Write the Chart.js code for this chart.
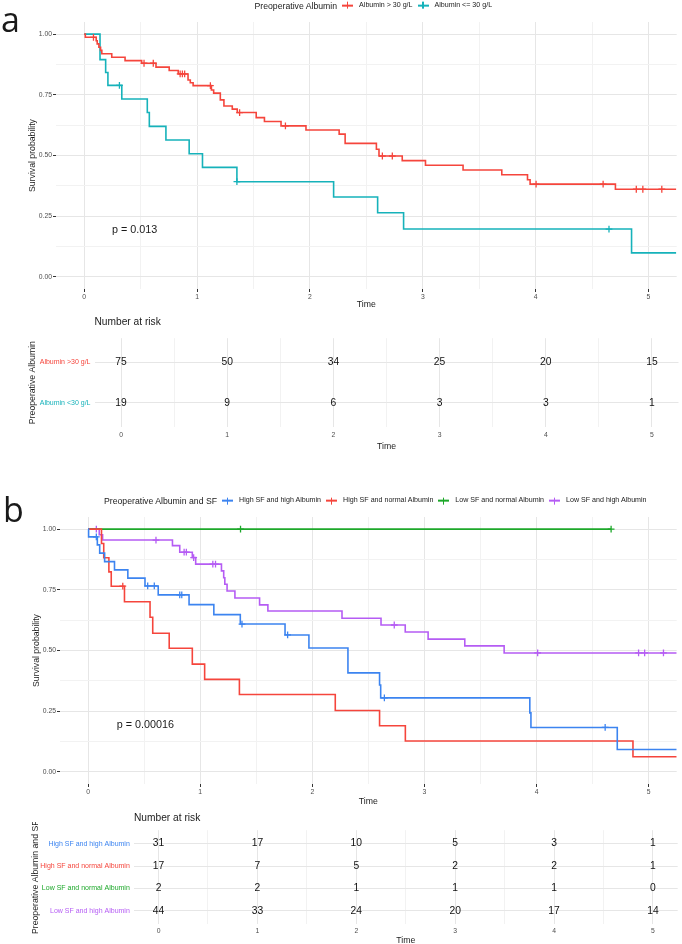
<!DOCTYPE html>
<html lang="en">
<head>
<meta charset="UTF-8" />
<meta name="viewport" content="width=device-width, initial-scale=1.0" />
<title>Survival by preoperative albumin and SF</title>
<script src="https://cdn.jsdelivr.net/npm/chart.js"></script>
<style>
  body { margin: 0; background: #fff; }
  #page {
    position: relative; width: 682px; height: 944px; overflow: hidden;
    font-family: 'Liberation Sans', Arial, Helvetica, sans-serif; color: #1a1a1a;
  }
  #page canvas { position: absolute; left: 0; }
  .lbl { position: absolute; white-space: nowrap; line-height: 1; transform: translateY(-50%); }
  .letter { position: absolute; font-family: 'Open Sans', sans-serif; font-size: 34px; line-height: 1; }
  .legend {
    position: absolute; display: flex; align-items: center; white-space: nowrap;
    line-height: 1; transform: translateY(-50%);
  }
  .legend .ttl { font-size: 8.7px; }
  .legend .item { font-size: 7.1px; }
  .legend .key { position: relative; width: 11px; height: 7px; margin: 0 6px 0 5px; }
  .legend .key::before {
    content: ''; position: absolute; left: 0; right: 0; top: 2.8px; height: 1.4px; background: currentColor;
  }
  .legend .key::after {
    content: ''; position: absolute; left: 4.9px; width: 1.2px; top: 0; bottom: 0; background: currentColor;
  }
</style>
</head>
<body>
<div id="page">
  <canvas id="kmA" width="682" height="310" style="top:0px"></canvas>
  <canvas id="riskA" width="682" height="122" style="top:330px"></canvas>
  <canvas id="kmB" width="682" height="317" style="top:490px"></canvas>
  <canvas id="riskB" width="682" height="124" style="top:822px"></canvas>

  <div class="letter" style="left:1px; top:2px">a</div>
  <div class="legend" style="left:254.5px; top:5.5px">
    <span class="ttl">Preoperative Albumin</span>
    <span class="key" style="color:#F5453C"></span><span class="item">Albumin &gt; 30 g/L</span>
    <span class="key" style="color:#16B2BA"></span><span class="item">Albumin &lt;= 30 g/L</span>
  </div>
  <div class="lbl" style="left:112px; top:229px; font-size:10.8px">p = 0.013</div>
  <div class="lbl" style="left:94.5px; top:322px; font-size:10.2px">Number at risk</div>

  <div class="letter" style="left:3px; top:492px">b</div>
  <div class="legend" style="left:104px; top:500.7px">
    <span class="ttl">Preoperative Albumin and SF</span>
    <span class="key" style="color:#3C84F0"></span><span class="item">High SF and high Albumin</span>
    <span class="key" style="color:#F5453C"></span><span class="item">High SF and normal Albumin</span>
    <span class="key" style="color:#1DA82A"></span><span class="item">Low SF and normal Albumin</span>
    <span class="key" style="color:#B55CF4"></span><span class="item">Low SF and high Albumin</span>
  </div>
  <div class="lbl" style="left:116.7px; top:724px; font-size:10.8px">p = 0.00016</div>
  <div class="lbl" style="left:134px; top:818px; font-size:10.2px">Number at risk</div>
</div>

<script>
// ---------- axes ----------
const timeLabels = [0, 1, 2, 3, 4, 5];
const timeGrid = [0, 0.5, 1, 1.5, 2, 2.5, 3, 3.5, 4, 4.5, 5];
const probLabels = [0, 0.25, 0.5, 0.75, 1];
const probGrid = [0, 0.125, 0.25, 0.375, 0.5, 0.625, 0.75, 0.875, 1];

// ---------- panel a: Albumin > 30 g/L ----------
const albHighTime = [0, 0.01, 0.106, 0.115, 0.13, 0.145, 0.156, 0.244, 0.362, 0.509, 0.636, 0.753, 0.833,
  0.92, 0.94, 0.965, 1.127, 1.147, 1.206, 1.238, 1.312, 1.356, 1.524, 1.597, 1.744, 1.965, 2.259, 2.312,
  2.589, 2.612, 2.818, 3.024, 3.357, 3.70, 3.928, 3.951, 4.707, 5.245];
const albHighSurv = [1, 0.987, 0.973, 0.96, 0.946, 0.933, 0.919, 0.905, 0.891, 0.88, 0.864, 0.85, 0.836,
  0.811, 0.80, 0.788, 0.77, 0.757, 0.729, 0.704, 0.691, 0.677, 0.656, 0.64, 0.622, 0.605, 0.588, 0.55,
  0.526, 0.498, 0.479, 0.46, 0.44, 0.421, 0.40, 0.382, 0.361, 0.361];
const albHighCensorTime = [0.082, 0.53, 0.612, 0.85, 0.87, 0.89, 1.118, 1.377, 1.783, 2.642, 2.73, 4.004, 4.598, 4.892, 4.95, 5.118];
const albHighCensorSurv = [0.987, 0.88, 0.88, 0.836, 0.836, 0.836, 0.788, 0.677, 0.622, 0.498, 0.498, 0.382, 0.382, 0.361, 0.361, 0.361];

// ---------- panel a: Albumin <= 30 g/L ----------
const albLowTime = [0, 0.14, 0.19, 0.21, 0.333, 0.559, 0.577, 0.724, 0.93, 1.048, 1.353, 2.21, 2.60, 2.83, 4.85, 5.245];
const albLowSurv = [1, 0.895, 0.842, 0.789, 0.733, 0.677, 0.62, 0.564, 0.507, 0.451, 0.392, 0.329, 0.264, 0.197, 0.099, 0.099];
const albLowCensorTime = [0.312, 1.353, 4.65];
const albLowCensorSurv = [0.789, 0.392, 0.197];

// ---------- panel a: number at risk ----------
const riskTimes = [0, 1, 2, 3, 4, 5];
const riskAlbHigh = [75, 50, 34, 25, 20, 15];
const riskAlbLow = [19, 9, 6, 3, 3, 1];

// ---------- panel b: High SF and high Albumin ----------
const hiSfHiAlbTime = [0, 0.005, 0.083, 0.104, 0.148, 0.236, 0.355, 0.508, 0.626, 0.901, 1.122, 1.358, 1.757,
  1.97, 2.318, 2.60, 2.61, 3.94, 3.95, 4.72, 5.25];
const hiSfHiAlbSurv = [1, 0.968, 0.935, 0.901, 0.866, 0.832, 0.798, 0.766, 0.729, 0.689, 0.648, 0.609, 0.564,
  0.51, 0.408, 0.358, 0.305, 0.243, 0.183, 0.092, 0.092];
const hiSfHiAlbCensorTime = [0.074, 0.532, 0.591, 0.818, 0.836, 1.373, 1.78, 2.643, 4.612];
const hiSfHiAlbCensorSurv = [0.968, 0.766, 0.766, 0.729, 0.729, 0.609, 0.564, 0.305, 0.183];

// ---------- panel b: High SF and normal Albumin ----------
const hiSfNormAlbTime = [0, 0.12, 0.14, 0.186, 0.207, 0.325, 0.553, 0.577, 0.724, 0.93, 1.04, 1.35, 2.205, 2.60, 2.83, 4.86, 5.25];
const hiSfNormAlbSurv = [1, 0.941, 0.882, 0.824, 0.765, 0.701, 0.637, 0.571, 0.509, 0.444, 0.381, 0.319, 0.253, 0.19, 0.127, 0.062, 0.062];
const hiSfNormAlbCensorTime = [0.31];
const hiSfNormAlbCensorSurv = [0.765];

// ---------- panel b: Low SF and normal Albumin ----------
const loSfNormAlbTime = [0, 4.665];
const loSfNormAlbSurv = [1, 1];
const loSfNormAlbCensorTime = [1.36, 4.665];
const loSfNormAlbCensorSurv = [1, 1];

// ---------- panel b: Low SF and high Albumin ----------
const loSfHiAlbTime = [0, 0.10, 0.13, 0.753, 0.818, 0.93, 0.96, 1.19, 1.21, 1.22, 1.24, 1.31, 1.53, 1.604,
  2.265, 2.613, 2.829, 3.033, 3.36, 3.711, 5.25];
const loSfHiAlbSurv = [1, 0.977, 0.955, 0.932, 0.905, 0.883, 0.856, 0.828, 0.80, 0.773, 0.745, 0.716, 0.688, 0.663,
  0.633, 0.605, 0.576, 0.547, 0.519, 0.49, 0.49];
const loSfHiAlbCensorTime = [0.074, 0.606, 0.857, 0.877, 0.942, 1.113, 1.137, 2.731, 4.01, 4.91, 4.964, 5.132];
const loSfHiAlbCensorSurv = [1, 0.955, 0.905, 0.905, 0.883, 0.856, 0.856, 0.605, 0.49, 0.49, 0.49, 0.49];

// ---------- panel b: number at risk ----------
const riskHiSfHiAlb = [31, 17, 10, 5, 3, 1];
const riskHiSfNormAlb = [17, 7, 5, 2, 2, 1];
const riskLoSfNormAlb = [2, 2, 1, 1, 1, 0];
const riskLoSfHiAlb = [44, 33, 24, 20, 17, 14];

// ---------- styles ----------
const RED = '#F5453C', TEAL = '#16B2BA', BLUE = '#3C84F0', GREEN = '#1DA82A', PURPLE = '#B55CF4';
const GRID_MAJOR = '#e6e6e6', GRID_MINOR = '#f2f2f2';
const TICK_TEXT = '#4d4d4d', TITLE_TEXT = '#1a1a1a';

Chart.defaults.font.family = "'Liberation Sans', Arial, Helvetica, sans-serif";
Chart.defaults.color = TICK_TEXT;

const groupsA = [
  { name: 'Albumin >30 g/L', color: RED, time: albHighTime, surv: albHighSurv,
    cTime: albHighCensorTime, cSurv: albHighCensorSurv, risk: riskAlbHigh },
  { name: 'Albumin <30 g/L', color: TEAL, time: albLowTime, surv: albLowSurv,
    cTime: albLowCensorTime, cSurv: albLowCensorSurv, risk: riskAlbLow }
];
const groupsB = [
  { name: 'High SF and high Albumin', color: BLUE, time: hiSfHiAlbTime, surv: hiSfHiAlbSurv,
    cTime: hiSfHiAlbCensorTime, cSurv: hiSfHiAlbCensorSurv, risk: riskHiSfHiAlb },
  { name: 'High SF and normal Albumin', color: RED, time: hiSfNormAlbTime, surv: hiSfNormAlbSurv,
    cTime: hiSfNormAlbCensorTime, cSurv: hiSfNormAlbCensorSurv, risk: riskHiSfNormAlb },
  { name: 'Low SF and normal Albumin', color: GREEN, time: loSfNormAlbTime, surv: loSfNormAlbSurv,
    cTime: loSfNormAlbCensorTime, cSurv: loSfNormAlbCensorSurv, risk: riskLoSfNormAlb },
  { name: 'Low SF and high Albumin', color: PURPLE, time: loSfHiAlbTime, surv: loSfHiAlbSurv,
    cTime: loSfHiAlbCensorTime, cSurv: loSfHiAlbCensorSurv, risk: riskLoSfHiAlb }
];

function isIn(v, list) {
  return list.some(m => Math.abs(m - v) < 1e-9);
}

function gridColor(majors) {
  return c => (!c.tick || isIn(c.tick.value, majors)) ? GRID_MAJOR : GRID_MINOR;
}

function timeAxis(height, tickPad, drawTicks) {
  return {
    type: 'linear', min: -0.25, max: 5.25,
    afterBuildTicks: s => { s.ticks = timeGrid.map(v => ({ value: v })); },
    afterFit: s => { s.height = height; },
    ticks: {
      autoSkip: false, maxRotation: 0, padding: tickPad, font: { size: 6.8 }, color: TICK_TEXT,
      callback: v => isIn(v, timeLabels) ? String(v) : ''
    },
    grid: {
      color: gridColor(timeLabels), drawTicks: drawTicks, tickLength: 3,
      tickColor: c => (c.tick && isIn(c.tick.value, timeLabels)) ? '#333' : 'rgba(0,0,0,0)'
    },
    border: { display: false },
    title: { display: true, text: 'Time', color: TITLE_TEXT, font: { size: 8.7 }, padding: 0 }
  };
}

function makeKM(id, groups, padding, xHeight) {
  const datasets = [];
  groups.forEach(g => {
    datasets.push({
      type: 'scatter', showLine: true, stepped: true,
      data: g.time.map((t, i) => ({ x: t, y: g.surv[i] })),
      borderColor: g.color, backgroundColor: g.color, borderWidth: 1.6,
      pointRadius: 0, fill: false
    });
    datasets.push({
      type: 'scatter', showLine: false,
      data: g.cTime.map((t, i) => ({ x: t, y: g.cSurv[i] })),
      borderColor: g.color, backgroundColor: g.color,
      pointStyle: 'cross', pointRadius: 3.4, pointBorderWidth: 1.3
    });
  });

  return new Chart(document.getElementById(id), {
    type: 'scatter',
    data: { datasets },
    options: {
      responsive: false, animation: false, events: [],
      layout: { padding },
      plugins: { legend: { display: false }, tooltip: { enabled: false } },
      scales: {
        x: timeAxis(xHeight, 1, true),
        y: {
          type: 'linear', min: -0.05, max: 1.05,
          afterBuildTicks: s => { s.ticks = probGrid.map(v => ({ value: v })); },
          afterFit: s => { s.width = 29; },
          ticks: {
            autoSkip: false, padding: 1, font: { size: 6.8 }, color: TICK_TEXT,
            callback: v => isIn(v, probLabels) ? v.toFixed(2) : ''
          },
          grid: {
            color: gridColor(probLabels), drawTicks: true, tickLength: 3,
            tickColor: c => (c.tick && isIn(c.tick.value, probLabels)) ? '#333' : 'rgba(0,0,0,0)'
          },
          border: { display: false },
          title: { display: true, text: 'Survival probability', color: TITLE_TEXT, font: { size: 8.7 }, padding: 0 }
        }
      }
    }
  });
}

// numbers of the risk table, written at each point the scales place
const riskNumbers = {
  id: 'riskNumbers',
  afterDatasetsDraw(chart) {
    const ctx = chart.ctx;
    ctx.save();
    ctx.font = "10.3px 'Liberation Sans', Arial, sans-serif";
    ctx.fillStyle = '#111';
    ctx.textAlign = 'center';
    ctx.textBaseline = 'middle';
    chart.data.datasets.forEach((ds, i) => {
      chart.getDatasetMeta(i).data.forEach((pt, j) => {
        ctx.fillText(String(ds.data[j].n), pt.x, pt.y);
      });
    });
    ctx.restore();
  }
};

function makeRisk(id, groups, title, padding, yWidth, xHeight, tickPad) {
  const rows = groups.map((g, r) => r + 1);
  return new Chart(document.getElementById(id), {
    type: 'scatter',
    data: {
      datasets: groups.map((g, r) => ({
        data: riskTimes.map((t, i) => ({ x: t, y: r + 1, n: g.risk[i] })),
        pointRadius: 0, showLine: false
      }))
    },
    options: {
      responsive: false, animation: false, events: [],
      layout: { padding },
      plugins: { legend: { display: false }, tooltip: { enabled: false } },
      scales: {
        x: timeAxis(xHeight, tickPad, false),
        y: {
          type: 'linear', min: 0.4, max: groups.length + 0.6, reverse: true,
          afterBuildTicks: s => { s.ticks = rows.map(v => ({ value: v })); },
          afterFit: s => { s.width = yWidth; },
          ticks: {
            autoSkip: false, padding: 4, font: { size: 7 },
            color: c => groups[c.index] ? groups[c.index].color : TICK_TEXT,
            callback: v => groups[v - 1] ? groups[v - 1].name : ''
          },
          grid: { color: GRID_MAJOR, drawTicks: false },
          border: { display: false },
          title: { display: true, text: title, color: TITLE_TEXT, font: { size: 8.7 }, padding: 0 }
        }
      }
    },
    plugins: [riskNumbers]
  });
}

makeKM('kmA', groupsA, { left: 27, top: 22, right: 2, bottom: 0 }, 21);
makeRisk('riskA', groupsA, 'Preoperative Albumin', { left: 27, top: 3, right: 3.5, bottom: 0 }, 67.5, 25, 4.5);
makeKM('kmB', groupsB, { left: 31, top: 27, right: 1, bottom: 0 }, 23);
makeRisk('riskB', groupsB, 'Preoperative Albumin and SF', { left: 30, top: 4, right: 4.3, bottom: 0 }, 103.8, 21.7, 2.6);
</script>
</body>
</html>
